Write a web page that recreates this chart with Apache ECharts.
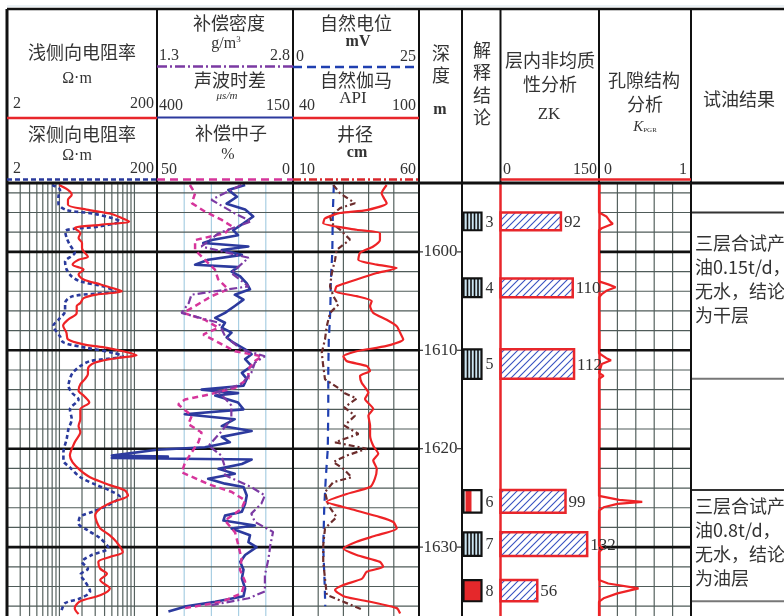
<!DOCTYPE html>
<html>
<head>
<meta charset="utf-8">
<script src="https://cdn.jsdelivr.net/npm/echarts@6.0.0/dist/echarts.min.js"></script>
<style>
html, body { margin: 0; padding: 0; background: #fff; }
#chart { width: 784px; height: 616px; }
</style>
</head>
<body>
<div id="chart"></div>
<script>
// ---- depth range and depth ticks (m) ----
const depthMin = 1593;
const depthMax = 1637;
const depthTicks = [1600, 1610, 1620, 1630];

// ---- curves: [depth (m), value] ----
// shallow laterolog resistivity, ohm·m
const llsCurve = [[1593.2,9.9],[1593.7,13],[1594.2,14.6],[1594.7,13],[1595.2,13],[1595.7,23],[1596.1,47],[1596.6,70],[1596.9,85],[1597.25,35],[1597.6,16],[1598.1,19],[1598.6,18],[1599.1,20],[1599.6,20],[1599.95,21],[1600.5,24],[1600.8,18],[1601.3,15],[1601.8,21],[1602.3,18],[1602.8,21],[1603.3,35],[1603.7,52],[1604.0,68],[1604.35,31],[1604.7,21],[1605.2,19],[1605.5,17],[1606.2,17],[1606.9,13],[1607.5,11.2],[1608.2,12.4],[1608.9,13],[1609.4,21],[1609.75,43],[1610.1,70],[1610.5,107],[1610.75,64],[1611.1,35],[1611.4,27],[1611.9,24],[1612.4,24],[1612.9,22],[1613.45,19],[1614.1,18],[1614.6,21],[1615.3,25],[1616.0,19],[1617.0,19],[1617.7,18],[1618.3,19],[1619.35,16],[1620.7,13.8],[1621.4,15],[1622.2,19],[1622.9,25.6],[1623.7,47],[1624.25,75],[1624.75,82],[1625.4,52],[1626.1,35],[1626.8,30],[1627.45,31.5],[1628.1,35],[1628.8,47],[1629.5,58],[1630.5,70],[1631.0,47],[1631.5,33],[1632.2,35],[1632.7,43],[1633.35,35],[1634.2,47],[1634.9,35],[1635.5,19],[1636.2,16],[1636.8,18]];
// deep laterolog resistivity, ohm·m
const lldCurve = [[1593.2,8.0],[1593.7,10.2],[1594.4,9.7],[1595.1,9.7],[1595.75,12.5],[1596.1,28],[1596.6,52],[1596.9,64],[1597.4,35],[1597.9,11.9],[1598.6,12.5],[1599.3,13.8],[1600.1,16],[1601.0,11.9],[1601.8,12.5],[1602.5,14.6],[1603.0,19],[1603.5,38],[1604.0,55],[1604.5,15],[1605.2,11.9],[1606.0,11.9],[1606.9,9.7],[1607.5,8.3],[1608.6,10.2],[1609.2,11.3],[1609.75,23],[1610.25,52],[1610.6,70],[1611.1,25.6],[1611.6,19],[1612.3,15],[1612.9,13.8],[1613.6,13.2],[1614.3,14.6],[1615.0,18],[1616.0,13.8],[1617.0,14.6],[1618.0,13.2],[1619.0,12.5],[1620.4,11.3],[1621.2,11.3],[1621.9,13.8],[1622.9,19],[1623.7,31.5],[1624.25,47],[1624.9,64],[1625.8,43],[1626.4,28],[1626.9,19],[1627.6,18],[1628.3,24],[1629.1,35],[1630.1,45],[1630.8,27],[1631.5,20],[1632.2,24],[1632.8,19],[1633.5,22],[1634.5,25.6],[1635.2,19],[1635.7,11.9],[1636.4,10.7]];
// compensated density, g/cm3
const denCurve = [[1593.2,2.23],[1594.7,1.90],[1596.1,2.16],[1596.9,2.34],[1598.1,1.98],[1599.45,1.79],[1600.6,2.31],[1602.15,2.12],[1603.5,2.31],[1604.35,1.68],[1605.2,1.65],[1606.2,1.57],[1607.2,1.98],[1608.55,2.05],[1609.9,2.23],[1610.6,2.49],[1611.25,2.38],[1612.3,2.34],[1613.45,2.23],[1614.3,1.94],[1614.5,2.01],[1615.6,2.12],[1617.0,2.12],[1618.35,2.0],[1619.7,1.87],[1620.7,2.01],[1621.9,2.05],[1622.7,2.05],[1623.9,2.34],[1624.75,2.49],[1625.6,2.45],[1626.6,2.34],[1627.45,2.38],[1628.45,2.58],[1629.8,2.55],[1631.15,2.53],[1632.85,2.49],[1634.5,2.49],[1635.2,2.31],[1635.9,1.90]];
// acoustic interval transit time, us/m
const acCurve = [[1593.2,238],[1593.7,269],[1594.4,253],[1595.1,272],[1595.7,238],[1596.4,223],[1597.1,241],[1597.8,260],[1598.3,251],[1598.8,299],[1599.1,315],[1599.45,232],[1599.8,281],[1600.3,244],[1600.8,306],[1601.3,330],[1601.55,251],[1602.0,263],[1602.5,247],[1603.2,235],[1603.8,229],[1604.35,257],[1604.85,241],[1605.5,257],[1606.2,275],[1606.7,293],[1607.2,275],[1607.7,281],[1608.2,263],[1608.7,272],[1609.2,260],[1609.9,238],[1610.4,226],[1610.9,238],[1611.6,226],[1612.3,244],[1612.9,235],[1613.6,241],[1614.0,318],[1614.35,251],[1614.6,293],[1615.3,251],[1616.0,241],[1616.5,349],[1617.0,257],[1617.7,281],[1618.2,226],[1618.8,281],[1619.35,266],[1619.85,312],[1620.1,400],[1620.7,483],[1620.8,380],[1620.95,483],[1621.1,226],[1621.55,244],[1622.05,287],[1622.55,257],[1623.05,306],[1623.55,275],[1623.9,241],[1624.75,235],[1625.6,238],[1626.4,244],[1626.8,275],[1627.3,278],[1627.8,220],[1628.1,263],[1628.8,229],[1629.5,232],[1630.0,217],[1630.8,238],[1631.5,247],[1632.3,241],[1633.2,244],[1634.2,238],[1635.0,241],[1635.55,293],[1636.05,349],[1636.55,379]];
// compensated neutron, %
const cnlCurve = [[1593.2,37.9],[1594.05,36],[1595.05,37.2],[1595.9,32.4],[1596.75,26.2],[1597.4,22.5],[1598.1,25],[1598.8,36],[1599.8,36],[1600.8,32.4],[1601.8,28.7],[1602.8,27.5],[1603.8,23.8],[1604.5,29.9],[1605.5,36],[1606.2,40.3],[1606.9,32.4],[1607.7,27.5],[1608.4,33],[1609.2,27.5],[1610.1,21.3],[1610.6,11.5],[1611.1,14],[1611.9,16.4],[1612.9,16.4],[1613.8,21.3],[1614.5,31.1],[1615.0,39.7],[1615.5,42.2],[1616.65,37.2],[1617.5,38.5],[1618.35,33.6],[1619.35,34.8],[1620.35,37.2],[1621.4,39.7],[1622.4,40.9],[1623.6,31.1],[1624.4,22.5],[1625.25,17.6],[1626.1,18.9],[1627.3,25],[1628.5,21.3],[1629.8,20.1],[1631.2,18.9],[1632.3,19.5],[1633.5,17.6],[1634.7,18.9],[1635.55,26.2],[1636.2,39.7]];
// spontaneous potential, mV
const spCurve = [[1593.2,8.1],[1596,7.9],[1600,7.8],[1603,7.5],[1606,7.4],[1609,7.1],[1612,7.0],[1616,7.0],[1620,6.9],[1623,6.5],[1626,6.2],[1630,6.0],[1634,6.3],[1636,6.4]];
// natural gamma ray, API
const grCurve = [[1593.2,84.6],[1594.05,82.2],[1595.05,84.6],[1595.75,75.1],[1596.05,62.4],[1596.6,55.2],[1597.1,54.4],[1597.75,70.3],[1598.1,81.4],[1598.8,81.4],[1599.45,78.2],[1600.1,71.9],[1600.8,71.1],[1601.3,79.9],[1601.65,89.4],[1602.15,79.9],[1602.8,70.3],[1603.5,60.8],[1604.0,60],[1604.5,70.3],[1605.0,77.5],[1605.5,76.7],[1606.2,78.2],[1606.9,84.6],[1607.55,89.4],[1608.2,91],[1608.9,92.5],[1609.55,84.6],[1610.1,70.3],[1610.6,64],[1611.1,65.6],[1611.6,75.1],[1612.1,76.7],[1612.6,71.9],[1613.3,72.7],[1614.0,75.1],[1614.3,75.9],[1614.95,74.3],[1615.95,78.2],[1616.65,75.9],[1617.65,76.7],[1618.65,76.7],[1619.7,78.2],[1620.5,80.6],[1621.2,78.2],[1622.05,79.9],[1623.05,79],[1623.9,76.7],[1624.6,65.6],[1625.4,56],[1626.1,67.1],[1626.95,81.4],[1627.45,87.8],[1628.1,89.4],[1628.8,79.9],[1629.45,70.3],[1630.15,64],[1630.8,70.3],[1631.5,81.4],[1632.0,83],[1632.5,75.1],[1633.2,72.9],[1633.85,64],[1634.35,60],[1635.05,64.8],[1635.55,76.7],[1636.2,89.4],[1636.75,91]];
// caliper, cm
const calCurve = [[1593.2,26],[1594.05,28.7],[1595.05,34.6],[1595.55,28.7],[1596.4,24.7],[1597.1,25.4],[1597.75,28.7],[1598.75,32.6],[1599.8,27.3],[1600.8,26.7],[1602.15,25.4],[1603.5,24.7],[1604.5,26],[1605.35,28],[1606.2,24.7],[1607.55,23.4],[1608.9,22.7],[1610.25,21.4],[1611.6,22],[1612.95,22.7],[1613.95,28.7],[1614.3,30],[1614.9,35.3],[1615.8,30.4],[1616.65,34.6],[1617.65,30.4],[1618.5,36],[1619.35,26.7],[1620.0,39.2],[1620.7,31.3],[1621.35,26],[1622.05,30],[1622.9,33.3],[1623.4,26],[1624.4,22.7],[1625.75,24],[1626.95,27.3],[1628.1,22.7],[1629.8,22],[1631.5,22],[1633.2,22.7],[1634.85,23.4],[1635.55,30],[1636.4,37.9]];
// pore structure index K_PGR
const kpgrCurve = [[1593,0],[1596.0,0],[1596.4,0.08],[1596.9,0.12],[1597.15,0.15],[1597.6,0.03],[1597.8,0],[1603.0,0],[1603.3,0.1],[1603.6,0.18],[1603.95,0.08],[1604.3,0.03],[1604.6,0],[1610.3,0],[1610.8,0.08],[1611.0,0.13],[1611.4,0.03],[1612.3,0],[1612.6,0.05],[1612.9,0],[1624.8,0],[1625.2,0.22],[1625.4,0.47],[1625.6,0.2],[1625.95,0.05],[1626.3,0],[1629.8,0],[1630.15,0.04],[1630.5,0],[1633.35,0],[1633.7,0.1],[1634.2,0.43],[1634.7,0.2],[1635.2,0.05],[1635.55,0],[1637,0]];

// ---- interpreted layers ----
const layerNo = [3, 4, 5, 6, 7, 8];
const layerTop = [1596.0, 1602.7, 1609.9, 1624.2, 1628.5, 1633.35];
const layerBottom = [1597.8, 1604.6, 1612.9, 1626.5, 1630.9, 1635.5];
const layerKind = ['dry', 'dry', 'dry', 'poor', 'dry', 'oil'];
const zkValue = [92, 110, 112, 99, 132, 56];

// ---- test results (grouped layers) ----
const resultFirstLayer = [0, 3];
const resultLastLayer = [2, 5];
const resultLines1 = ['三层合试产', '油0.15t/d，', '无水，结论', '为干层'];
const resultLines2 = ['三层合试产', '油0.8t/d，', '无水，结论', '为油层'];

// grid-line values per track
const resVerticals = [3, 4, 5, 6, 7, 8, 9, 10, 20, 30, 40, 50, 60, 70, 80, 90, 100];
const denVerticals = [1.6, 1.9, 2.2, 2.5];
const spVerticals = [5, 10, 15, 20];
const kpgrVerticals = [0.2, 0.4, 0.6, 0.8];

// ---------------- layout ----------------
const TOP = 183, HEIGHT = 435;
const tracks = [
  { left: 7, width: 150 },      // resistivity
  { left: 157, width: 136 },    // density / sonic / neutron
  { left: 293, width: 126 },    // SP / GR / caliper
  { left: 419, width: 43 },     // depth
  { left: 462, width: 38.5 },   // interpretation
  { left: 500.5, width: 98.5 }, // ZK
  { left: 599, width: 92 },     // K_PGR
  { left: 691, width: 110 }     // test result
];

const CJK = '"Noto Sans CJK SC"';
const SERIF = '"Liberation Serif"';
const RED = '#e8262b';

function hatchPattern() {
  const c = document.createElement('canvas');
  c.width = 7; c.height = 7;
  const g = c.getContext('2d');
  g.strokeStyle = '#3550c0';
  g.lineWidth = 1.1;
  g.beginPath(); g.moveTo(-1, 8); g.lineTo(8, -1); g.stroke();
  g.beginPath(); g.moveTo(-1, 1); g.lineTo(1, -1); g.stroke();
  g.beginPath(); g.moveTo(6, 8); g.lineTo(8, 6); g.stroke();
  return c;
}
const hatch = hatchPattern();

function txtStyle(text, font, align, fill) {
  return {
    text: text, font: font, fill: fill || '#333',
    align: align || 'center', verticalAlign: 'middle',
    textAlign: align || 'center', textVerticalAlign: 'middle'
  };
}

const grid = tracks.map(t => ({ left: t.left, width: t.width, top: TOP, height: HEIGHT, containLabel: false }));

const xAxis = [
  { gridIndex: 0, type: 'log', logBase: 10, min: 2, max: 200 },
  { gridIndex: 1, type: 'value', min: 1.3, max: 2.8 },
  { gridIndex: 1, type: 'value', min: 150, max: 400, inverse: true },
  { gridIndex: 1, type: 'value', min: 0, max: 50, inverse: true },
  { gridIndex: 2, type: 'value', min: 0, max: 25 },
  { gridIndex: 2, type: 'value', min: 40, max: 100 },
  { gridIndex: 2, type: 'value', min: 10, max: 60 },
  { gridIndex: 3, type: 'value', min: 0, max: 1 },
  { gridIndex: 4, type: 'value', min: 0, max: 1 },
  { gridIndex: 5, type: 'value', min: 0, max: 150 },
  { gridIndex: 6, type: 'value', min: 0, max: 1 },
  { gridIndex: 7, type: 'value', min: 0, max: 1 }
].map(a => Object.assign({ show: false }, a));

const yAxis = tracks.map((t, i) => ({
  gridIndex: i, type: 'value', min: depthMin, max: depthMax, inverse: true,
  show: i === 5 || i === 6,
  axisLine: { show: true, onZero: false, lineStyle: { color: RED, width: 2.5 } },
  axisTick: { show: false }, axisLabel: { show: false }, splitLine: { show: false }
}));

// depth grid + vertical scale lines of one track
function trackGrid(gi, xi, refX, verticals, vColor) {
  return {
    type: 'custom', xAxisIndex: xi, yAxisIndex: gi, silent: true, z: 1,
    data: [[refX, 1615]],
    renderItem(params, api) {
      const cs = params.coordSys;
      const minor = [], major = [];
      verticals.forEach(v => {
        const x = api.coord([v, depthMin])[0];
        minor.push({ type: 'line', shape: { x1: x, y1: cs.y, x2: x, y2: cs.y + cs.height },
          style: { stroke: vColor, lineWidth: 1.2 } });
      });
      for (let d = depthMin + 1; d < depthMax; d += 2) {
        const y = api.coord([refX, d])[1];
        if (d % 10 === 0) {
          major.push({ type: 'line', shape: { x1: cs.x, y1: y, x2: cs.x + cs.width, y2: y },
            style: { stroke: '#111', lineWidth: 2.6 } });
        } else {
          minor.push({ type: 'line', shape: { x1: cs.x, y1: y, x2: cs.x + cs.width, y2: y },
            style: { stroke: '#4f5b59', lineWidth: 1.2 } });
        }
      }
      return { type: 'group', children: minor.concat(major) };
    }
  };
}

function curve(data, xi, gi, color, width, dash, extra) {
  return Object.assign({
    type: 'line', xAxisIndex: xi, yAxisIndex: gi,
    data: data.map(p => [p[1], p[0]]),
    symbol: 'none', silent: true, z: 3,
    lineStyle: { color: color, width: width, type: dash || 'solid' }
  }, extra || {});
}

// a curve drawn as one polyline through the axis scales, free to run past its track
function freeCurve(data, xi, gi, color, width) {
  return {
    type: 'custom', xAxisIndex: xi, yAxisIndex: gi, silent: true, z: 3,
    data: [[data[0][1], data[0][0]]],
    renderItem(params, api) {
      return { type: 'polyline',
        shape: { points: data.map(p => api.coord([p[1], p[0]])) },
        style: { stroke: color, lineWidth: width, fill: null, lineJoin: 'round' } };
    }
  };
}

const series = [
  trackGrid(0, 0, 2, resVerticals, '#56625f'),
  trackGrid(1, 1, 1.3, denVerticals, '#a9cfe3'),
  trackGrid(2, 4, 0, spVerticals, '#56625f'),
  trackGrid(6, 10, 0, kpgrVerticals, '#56625f'),

  curve(lldCurve, 0, 0, '#2a3a9c', 2.6, [4, 3], { smooth: 0.3 }),
  curve(llsCurve, 0, 0, '#ee2326', 2.2, null, { smooth: 0.3 }),

  curve(cnlCurve, 3, 1, '#d6359b', 2.5, [6, 4]),
  curve(denCurve, 1, 1, '#7b3aa3', 2.2, [8, 3, 2, 3]),
  freeCurve(acCurve, 2, 1, '#2c3a9e', 2.6),

  curve(spCurve, 4, 2, '#1f3fb0', 2.2, [8, 6]),
  curve(calCurve, 6, 2, '#6d2d2d', 2.2, [6, 3, 2, 3]),
  curve(grCurve, 5, 2, '#ee2326', 2.2, null, { smooth: 0.2 }),

  curve(kpgrCurve, 10, 6, '#ee2326', 2.2, null, { z: 4 }),

  // depth labels
  {
    type: 'custom', xAxisIndex: 7, yAxisIndex: 3, silent: true, z: 5,
    data: depthTicks.map(d => [0.5, d]),
    renderItem(params, api) {
      const cs = params.coordSys;
      const y = api.coord([0.5, api.value(1)])[1];
      return { type: 'group', children: [
        { type: 'line', shape: { x1: cs.x, y1: y, x2: cs.x + 4, y2: y }, style: { stroke: '#333', lineWidth: 1.2 } },
        { type: 'line', shape: { x1: cs.x + cs.width - 5, y1: y, x2: cs.x + cs.width, y2: y }, style: { stroke: '#333', lineWidth: 1.2 } },
        { type: 'text', x: cs.x + cs.width / 2, y: y, style: txtStyle(String(api.value(1)), '17px ' + SERIF, 'center', '#333') }
      ] };
    }
  },

  // interpretation conclusion boxes
  {
    type: 'custom', xAxisIndex: 8, yAxisIndex: 4, silent: true, z: 5,
    data: layerNo.map((n, i) => [0.5, layerTop[i], layerBottom[i], n]),
    renderItem(params, api) {
      const cs = params.coordSys;
      const i = params.dataIndex;
      const y0 = api.coord([0.5, api.value(1)])[1];
      const y1 = api.coord([0.5, api.value(2)])[1];
      const bx = cs.x + 1.5, bw = 18, bh = y1 - y0;
      const ch = [];
      const kind = layerKind[i];
      if (kind === 'dry') {
        ch.push({ type: 'rect', shape: { x: bx, y: y0, width: bw, height: bh }, style: { fill: '#cde6f2' } });
        [4, 7.5, 11, 14.5].forEach(o => ch.push({ type: 'line',
          shape: { x1: bx + o, y1: y0, x2: bx + o, y2: y1 }, style: { stroke: '#111', lineWidth: 1.6 } }));
      } else if (kind === 'poor') {
        ch.push({ type: 'rect', shape: { x: bx, y: y0, width: bw, height: bh }, style: { fill: '#fff' } });
        ch.push({ type: 'rect', shape: { x: bx + 2, y: y0, width: 6, height: bh }, style: { fill: '#e5282b' } });
      } else {
        ch.push({ type: 'rect', shape: { x: bx, y: y0, width: bw, height: bh }, style: { fill: '#e5282b' } });
      }
      ch.push({ type: 'rect', shape: { x: bx, y: y0, width: bw, height: bh }, style: { fill: null, stroke: '#111', lineWidth: 2.2 } });
      ch.push({ type: 'text', x: cs.x + 23.5, y: (y0 + y1) / 2 + 1,
        style: txtStyle(String(api.value(3)), '16px ' + SERIF, 'left', '#333') });
      return { type: 'group', children: ch };
    }
  },

  // ZK heterogeneity bars
  {
    type: 'custom', xAxisIndex: 9, yAxisIndex: 5, silent: true, z: 5,
    data: zkValue.map((v, i) => [v, layerTop[i], layerBottom[i]]),
    renderItem(params, api) {
      const v = api.value(0);
      const p0 = api.coord([0, api.value(1)]);
      const p1 = api.coord([v, api.value(2)]);
      return { type: 'group', children: [
        { type: 'rect', shape: { x: p0[0], y: p0[1], width: p1[0] - p0[0], height: p1[1] - p0[1] },
          style: { fill: { image: hatch, repeat: 'repeat' }, stroke: RED, lineWidth: 2.5 } },
        { type: 'text', x: p1[0] + 3, y: (p0[1] + p1[1]) / 2 + 1,
          style: txtStyle(String(v), '17px ' + SERIF, 'left', '#333') }
      ] };
    }
  },

  // test result blocks
  {
    type: 'custom', xAxisIndex: 11, yAxisIndex: 7, silent: true, z: 5,
    data: resultFirstLayer.map((f, k) => [0.5, layerTop[f], layerBottom[resultLastLayer[k]]]),
    renderItem(params, api) {
      const cs = params.coordSys;
      const k = params.dataIndex;
      const y0 = api.coord([0.5, api.value(1)])[1];
      const y1 = api.coord([0.5, api.value(2)])[1];
      const lines = k === 0 ? resultLines1 : resultLines2;
      const offset = k === 0 ? 31 : 16;
      const ch = [
        { type: 'line', shape: { x1: cs.x, y1: y0, x2: cs.x + cs.width, y2: y0 }, style: { stroke: '#333', lineWidth: 2 } },
        { type: 'line', shape: { x1: cs.x, y1: y1, x2: cs.x + cs.width, y2: y1 }, style: { stroke: '#777', lineWidth: 2 } }
      ];
      lines.forEach((s, j) => ch.push({ type: 'text', x: cs.x + 4, y: y0 + offset + j * 24,
        style: txtStyle(s, '18px ' + CJK, 'left', '#333') }));
      return { type: 'group', children: ch };
    }
  }
];

// ---------------- header and frame ----------------
const G = [];
function L(x1, y1, x2, y2, color, w, dash) {
  G.push({ type: 'line', z: 100, silent: true, shape: { x1, y1, x2, y2 },
    style: { stroke: color, lineWidth: w, lineDash: dash || null } });
}
function T(x, y, text, font, align) {
  G.push({ type: 'text', z: 100, silent: true, x: x, y: y, style: txtStyle(text, font, align, '#333') });
}
function R(x, y, rich, text) {
  G.push({ type: 'text', z: 100, silent: true, x: x, y: y,
    style: Object.assign(txtStyle(text, '16px ' + SERIF, 'center', '#333'), { rich: rich }) });
}
const F_CJK = '18px ' + CJK;
const F_NUM = '16px ' + SERIF;

// frame
L(7, 6, 784, 6, '#d6e4ec', 1);
L(7, 9, 784, 9, '#111', 2.5);
L(7, 183, 784, 183, '#111', 3);
[[7, 3], [157, 2], [293, 2], [419, 2], [462, 2], [691, 2]].forEach(v => L(v[0], 9, v[0], 616, '#111', v[1]));
L(500.5, 9, 500.5, 183, '#111', 2);
L(599, 9, 599, 183, '#111', 2);

// resistivity header
T(82, 52, '浅侧向电阻率', F_CJK);
T(77, 79, 'Ω·m', F_NUM);
T(13, 104, '2', F_NUM, 'left');
T(154, 104, '200', F_NUM, 'right');
L(7, 118, 157, 118, RED, 2.5);
T(82, 134, '深侧向电阻率', F_CJK);
T(77, 156, 'Ω·m', F_NUM);
T(13, 169, '2', F_NUM, 'left');
T(154, 169, '200', F_NUM, 'right');
L(7, 179.5, 157, 179.5, '#2a3a9c', 2.5, [5, 3]);

// porosity header
T(229, 23, '补偿密度', F_CJK);
R(226, 44, { a: { font: '16px ' + SERIF, fill: '#333' }, b: { font: '9px ' + SERIF, fill: '#333', verticalAlign: 'top', padding: [0, 0, 8, 0] } }, '{a|g/m}{b|3}');
T(159, 56, '1.3', F_NUM, 'left');
T(290, 56, '2.8', F_NUM, 'right');
L(157, 66.5, 293, 66.5, '#7b3aa3', 2.5, [10, 3, 2, 3]);
T(230, 80, '声波时差', F_CJK);
T(227, 96, 'μs/m', 'italic 11px ' + SERIF);
T(159, 106, '400', F_NUM, 'left');
T(290, 106, '150', F_NUM, 'right');
L(157, 117.5, 293, 117.5, '#2c3a9e', 2);
T(231, 133, '补偿中子', F_CJK);
T(228, 155, '%', F_NUM);
T(161, 170, '50', F_NUM, 'left');
T(290, 170, '0', F_NUM, 'right');
L(157, 179.5, 293, 179.5, '#d6359b', 2.5, [8, 5]);

// SP / GR / caliper header
T(356, 23, '自然电位', F_CJK);
T(358, 42, 'mV', 'bold 16px ' + SERIF);
T(296, 57, '0', F_NUM, 'left');
T(416, 57, '25', F_NUM, 'right');
L(293, 67, 419, 67, '#1f3fb0', 2.5, [9, 5]);
T(356, 80, '自然伽马', F_CJK);
T(353, 99, 'API', '17px ' + SERIF);
T(299, 106, '40', F_NUM, 'left');
T(416, 106, '100', F_NUM, 'right');
L(293, 118, 419, 118, RED, 2.5);
T(355, 134, '井径', F_CJK);
T(357, 153, 'cm', 'bold 16px ' + SERIF);
T(299, 170, '10', F_NUM, 'left');
T(416, 170, '60', F_NUM, 'right');
L(293, 179.5, 419, 179.5, '#d9262b', 2.5, [8, 3, 2, 3]);

// depth / conclusion header
T(441, 53, '深', F_CJK);
T(441, 75, '度', F_CJK);
T(440, 110, 'm', 'bold 16px ' + SERIF);
T(482, 50, '解', F_CJK);
T(482, 72, '释', F_CJK);
T(482, 95, '结', F_CJK);
T(482, 117, '论', F_CJK);

// ZK header
T(550, 60, '层内非均质', F_CJK);
T(550, 84, '性分析', F_CJK);
T(549, 115, 'ZK', '17px ' + SERIF);
T(503, 170, '0', F_NUM, 'left');
T(597, 170, '150', F_NUM, 'right');
L(500.5, 179.5, 599, 179.5, RED, 2.5);

// K_PGR header
T(644, 80, '孔隙结构', F_CJK);
T(645, 104, '分析', F_CJK);
R(645, 127, { k: { font: 'italic 15px ' + SERIF, fill: '#333' }, s: { font: '7px ' + SERIF, fill: '#333', padding: [6, 0, 0, 0] } }, '{k|K}{s|PGR}');
T(604, 170, '0', F_NUM, 'left');
T(687, 170, '1', F_NUM, 'right');
L(599, 179.5, 691, 179.5, RED, 2.5);

// test result header
T(739, 99, '试油结果', F_CJK);

const chart = echarts.init(document.getElementById('chart'), null, { renderer: 'canvas' });
chart.setOption({
  animation: false,
  backgroundColor: '#fff',
  grid: grid,
  xAxis: xAxis,
  yAxis: yAxis,
  series: series,
  graphic: { elements: G }
});
</script>
</body>
</html>
